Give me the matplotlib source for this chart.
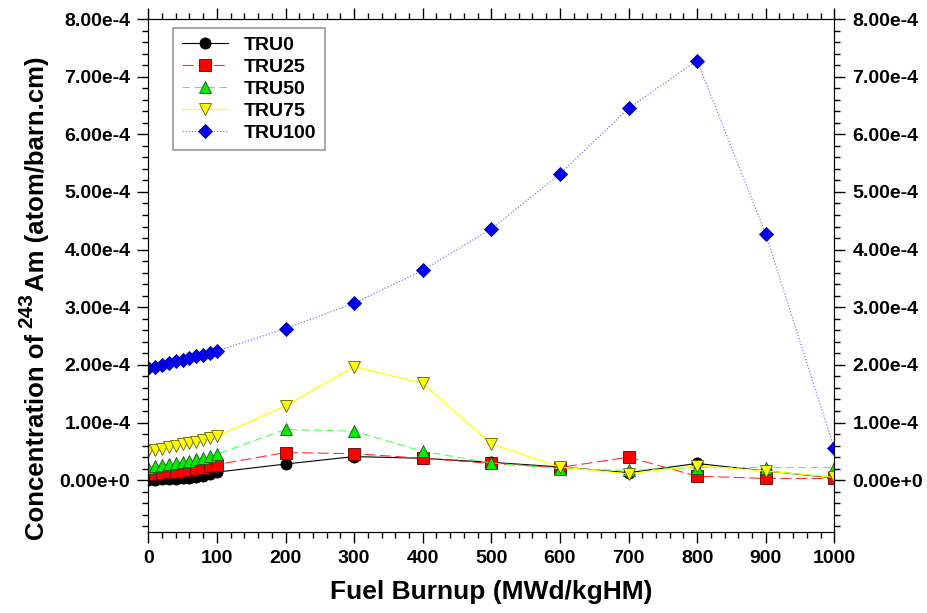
# Am-243 concentration vs burnup, 5 TRU fractions

import numpy as np
import matplotlib.pyplot as plt
from matplotlib.ticker import MultipleLocator, FixedLocator, FixedFormatter

plt.rcParams['font.family'] = 'Liberation Sans'
plt.rcParams['font.weight'] = 'bold'

burnup = [0, 10, 20, 30, 40, 50, 60, 70, 80, 90, 100,
          200, 300, 400, 500, 600, 700, 800, 900, 1000]

# valori in unita' di 1e-4 atom/barn.cm
tru0 = [0.01, 0.012, 0.016, 0.021, 0.028, 0.036, 0.046, 0.058, 0.075, 0.10, 0.14,
        0.28, 0.41, 0.38, 0.31, 0.23, 0.13, 0.29, 0.16, 0.04]
tru25 = [0.10, 0.11, 0.12, 0.135, 0.15, 0.165, 0.18, 0.20, 0.22, 0.245, 0.27,
         0.48, 0.46, 0.38, 0.29, 0.22, 0.40, 0.07, 0.03, 0.03]
tru50 = [0.22, 0.24, 0.26, 0.28, 0.30, 0.32, 0.34, 0.36, 0.39, 0.42, 0.45,
         0.88, 0.85, 0.50, 0.30, 0.20, 0.17, 0.22, 0.22, 0.22]
tru75 = [0.50, 0.52, 0.54, 0.57, 0.59, 0.62, 0.64, 0.67, 0.70, 0.73, 0.76,
         1.29, 1.97, 1.68, 0.63, 0.23, 0.11, 0.25, 0.16, 0.05]
tru100 = [1.95, 1.97, 2.00, 2.03, 2.06, 2.09, 2.12, 2.15, 2.18, 2.21, 2.24,
          2.63, 3.07, 3.64, 4.36, 5.31, 6.45, 7.28, 4.27, 0.55]

ytick_vals = [0, 1e-4, 2e-4, 3e-4, 4e-4, 5e-4, 6e-4, 7e-4, 8e-4]
ytick_labels = ['0.00e+0', '1.00e-4', '2.00e-4', '3.00e-4', '4.00e-4',
                '5.00e-4', '6.00e-4', '7.00e-4', '8.00e-4']

W, H = 927, 613
fig = plt.figure(figsize=(W / 100, H / 100), dpi=100)
ax = fig.add_axes([0.160, 0.132, 0.740, 0.837])

x = np.array(burnup)
s = 1e-4
ax.plot(x, np.array(tru0) * s, color='black', lw=0.8, ls='-',
        marker='o', ms=8, mfc='black', mec='black', mew=0.6, label='TRU0')
ax.plot(x, np.array(tru25) * s, color='#ff3030', lw=0.8, ls=(0, (10, 4)),
        marker='s', ms=8, mfc='#ff0000', mec='#600000', mew=0.6, label='TRU25')
ax.plot(x, np.array(tru50) * s, color='#50ff50', lw=0.8, ls=(0, (7, 4)),
        marker='^', ms=9, mfc='#00ee00', mec='#205020', mew=0.6, label='TRU50')
ax.plot(x, np.array(tru75) * s, color='#ffff00', lw=0.9, ls='-',
        marker='v', ms=9, mfc='#ffff00', mec='#606000', mew=0.6, label='TRU75')
ax.plot(x, np.array(tru100) * s, color='#8080ff', lw=0.9, ls=(0, (1, 1.5)),
        marker='D', ms=7, mfc='#0000ee', mec='#0000aa', mew=0.6, label='TRU100')

ax.set_xlim(0, 1000)
ax.set_ylim(-0.9e-4, 8e-4)
ax.xaxis.set_major_locator(MultipleLocator(100))
ax.xaxis.set_minor_locator(MultipleLocator(20))
ax.yaxis.set_major_locator(FixedLocator(ytick_vals))
ax.yaxis.set_major_formatter(FixedFormatter(ytick_labels))
ax.yaxis.set_minor_locator(MultipleLocator(2e-5))
ax.tick_params(which='both', direction='out', top=True, width=1)
ax.tick_params(which='major', length=8, labelsize=14, pad=5)
ax.tick_params(which='minor', length=4)

ax2 = ax.twinx()
ax2.set_ylim(ax.get_ylim())
ax2.yaxis.set_major_locator(FixedLocator(ytick_vals))
ax2.yaxis.set_major_formatter(FixedFormatter(ytick_labels))
ax2.yaxis.set_minor_locator(MultipleLocator(2e-5))
ax2.tick_params(which='both', direction='out', width=1)
ax2.tick_params(which='major', length=8, labelsize=14, pad=5)
ax2.tick_params(which='minor', length=4)

ax.set_xlabel('Fuel Burnup (MWd/kgHM)', fontsize=19, fontweight='bold', labelpad=9)

# etichetta y in tre pezzi, per avere l'apice grande come nell'originale
r = fig.canvas.get_renderer()
kw = dict(rotation=90, rotation_mode='anchor', ha='left', va='baseline',
          fontweight='bold')
y0 = 540
base_x = 44
t1 = fig.text(base_x / W, 1 - y0 / H, 'Concentration of', fontsize=18.5, **kw)
y0 -= t1.get_window_extent(r).height + 6
t2 = fig.text((base_x - 12) / W, 1 - y0 / H, '243', fontsize=15, **kw)
y0 -= t2.get_window_extent(r).height + 2
fig.text(base_x / W, 1 - y0 / H, 'Am (atom/barn.cm)', fontsize=18.5, **kw)

leg = ax.legend(loc='upper left', bbox_to_anchor=(0.036, 0.983), borderaxespad=0,
                prop={'size': 14, 'weight': 'bold'},
                handlelength=2.4, labelspacing=0.22, borderpad=0.45,
                fancybox=False, framealpha=1, edgecolor='#999999')
leg.get_frame().set_linewidth(1.2)

fig.savefig('out.png', dpi=100)
